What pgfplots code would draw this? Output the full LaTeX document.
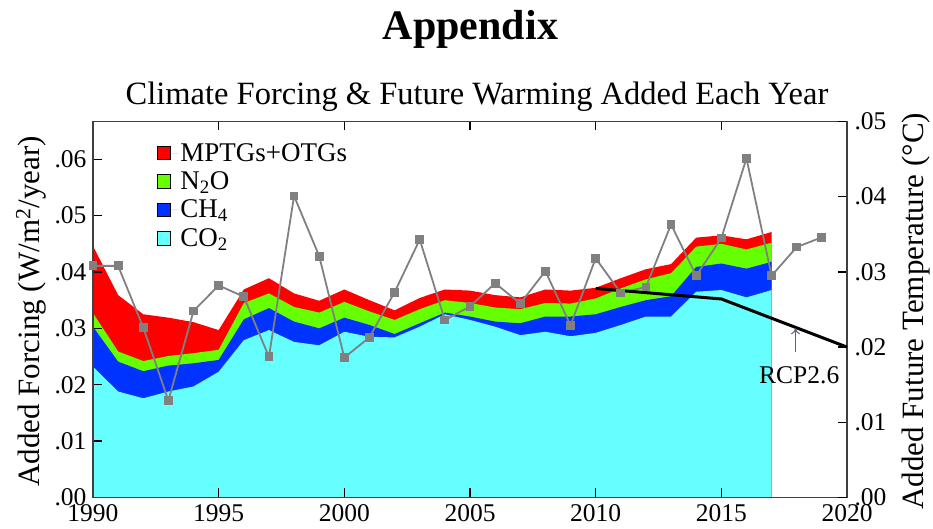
\documentclass[border=0pt]{standalone}
\usepackage{fontspec}
\setmainfont{Liberation Serif}
\usepackage{pgfplots}
\pgfplotsset{compat=1.18}
\usepackage{pgfplotstable}
\usetikzlibrary{arrows.meta}

\definecolor{cCO}{RGB}{102,255,255}
\definecolor{cCH}{RGB}{0,51,255}
\definecolor{cNO}{RGB}{102,255,0}
\definecolor{cMP}{RGB}{255,0,0}
\definecolor{cGray}{RGB}{128,128,128}
\definecolor{cArrow}{RGB}{90,100,120}

% top boundaries of the stacked layers (cumulative)
\pgfplotstableread{
year co2 ch4 n2o mptg
1990 0.0232 0.0303 0.0327 0.0446
1991 0.0188 0.0241 0.0259 0.0359
1992 0.0176 0.0224 0.0242 0.0325
1993 0.0188 0.0234 0.0251 0.0319
1994 0.0197 0.0238 0.0256 0.0311
1995 0.0223 0.0244 0.0262 0.0297
1996 0.0279 0.0316 0.0345 0.0369
1997 0.0297 0.0336 0.0362 0.0389
1998 0.0276 0.0312 0.0338 0.0362
1999 0.0270 0.0300 0.0328 0.0349
2000 0.0294 0.0319 0.0347 0.0369
2001 0.0285 0.0306 0.0330 0.0350
2002 0.0284 0.0290 0.0315 0.0332
2003 0.0303 0.0309 0.0334 0.0354
2004 0.0325 0.0328 0.0350 0.0369
2005 0.0315 0.0321 0.0345 0.0367
2006 0.0303 0.0312 0.0337 0.0359
2007 0.0288 0.0309 0.0334 0.0355
2008 0.0294 0.0321 0.0345 0.0369
2009 0.0286 0.0321 0.0344 0.0367
2010 0.0292 0.0325 0.0353 0.0372
2011 0.0306 0.0338 0.0371 0.0389
2012 0.0321 0.0350 0.0387 0.0405
2013 0.0321 0.0357 0.0398 0.0414
2014 0.0365 0.0409 0.0445 0.0461
2015 0.0368 0.0415 0.0450 0.0465
2016 0.0355 0.0406 0.0440 0.0458
2017 0.0368 0.0418 0.0452 0.0471
}\forcing

\pgfplotstableread{
year temp
1990 0.0308
1991 0.0308
1992 0.0226
1993 0.0129
1994 0.0248
1995 0.0282
1996 0.0267
1997 0.0187
1998 0.0401
1999 0.0321
2000 0.0186
2001 0.0213
2002 0.0273
2003 0.0343
2004 0.0236
2005 0.0254
2006 0.0285
2007 0.0258
2008 0.0301
2009 0.0229
2010 0.0318
2011 0.0272
2012 0.0280
2013 0.0363
2014 0.0295
2015 0.0345
2016 0.0451
2017 0.0295
2018 0.0333
2019 0.0346
}\temp

\pgfplotstableread{
year rcp
2010 0.0278
2015 0.0264
2020 0.0200
}\rcp

\begin{document}
\begin{tikzpicture}
\path[use as bounding box] (-93pt,-31.5pt) rectangle (840pt,497.5pt);
\begin{axis}[
  at={(0,0)}, anchor=south west,
  scale only axis, width=754pt, height=376pt,
  xmin=1990, xmax=2020, ymin=0, ymax=0.0667,
  scaled y ticks=false, scaled x ticks=false,
  xtick={1990,1995,2000,2005,2010,2015,2020},
  xticklabels={1990,1995,2000,2005,2010,2015,2020},
  ytick={0,0.01,0.02,0.03,0.04,0.05,0.06},
  yticklabels={.00,.01,.02,.03,.04,.05,.06},
  tick align=inside, xtick pos=both, ytick pos=left,
  major tick length=9pt,
  tick style={black, line width=1.4pt},
  axis line style={black!75, line width=1.2pt},
  ticklabel style={font=\fontsize{25.5}{28}\selectfont},
  xticklabel style={yshift=-3.5pt},
  yticklabel style={xshift=-3pt},
  axis on top,
  ylabel={Added Forcing (W/m\textsuperscript{2}/year)},
  ylabel style={at={(axis description cs:-0.082,0.495)}, anchor=center, font=\fontsize{31}{34}\selectfont},
  legend cell align=left,
  legend style={at={(axis description cs:0.082,0.953)}, anchor=north west, draw=none, fill=none,
    font=\fontsize{27}{29}\selectfont, row sep=5pt, inner sep=2pt},
  legend image code/.code={\draw[#1,draw=black,line width=0.6pt] (0pt,-6.7pt) rectangle (13.4pt,6.7pt); \path (0pt,0pt) -- (21pt,0pt);},
]
\addplot[fill=cMP, draw=none] table[x=year,y=mptg]{\forcing} \closedcycle;
\addlegendentry{MPTGs+OTGs}
\addplot[fill=cNO, draw=none] table[x=year,y=n2o]{\forcing} \closedcycle;
\addlegendentry{N\textsubscript{2}O}
\addplot[fill=cCH, draw=none] table[x=year,y=ch4]{\forcing} \closedcycle;
\addlegendentry{CH\textsubscript{4}}
\addplot[fill=cCO, draw=none] table[x=year,y=co2]{\forcing} \closedcycle;
\addlegendentry{CO\textsubscript{2}}
\end{axis}

\begin{axis}[
  at={(0,0)}, anchor=south west,
  scale only axis, width=754pt, height=376pt,
  xmin=1990, xmax=2020, ymin=0, ymax=0.05,
  scaled y ticks=false,
  axis x line=none, axis y line*=right,
  ytick={0,0.01,0.02,0.03,0.04,0.05},
  yticklabels={.00,.01,.02,.03,.04,.05},
  tick align=inside,
  major tick length=9pt,
  tick style={black, line width=1.4pt},
  axis line style={black!75, line width=1.2pt},
  ticklabel style={font=\fontsize{25.5}{28}\selectfont},
  yticklabel style={xshift=4pt},
  ylabel={Added Future Temperature (\textdegree C)},
  ylabel style={at={(axis description cs:1.0915,0.495)}, anchor=center, font=\fontsize{31}{34}\selectfont},
]
\addplot[cGray, line width=1.8pt, mark=square*, mark size=3.5pt, mark options={solid, fill=cGray, draw=cGray}] table[x=year,y=temp]{\temp};
\addplot[black, line width=3pt] table[x=year,y=rcp]{\rcp};
\draw[cArrow, line width=1pt, -{To[length=6pt,width=9pt]}] (axis cs:2017.95,0.0194) -- (axis cs:2017.95,0.0225);
\node[font=\fontsize{25.5}{28}\selectfont, anchor=center] at (axis cs:2018.1,0.0163) {RCP2.6};
\end{axis}

\node[font=\fontsize{32.5}{36}\selectfont, anchor=base] at (384pt,392.5pt) {Climate Forcing \& Future Warming Added Each Year};
\node[font=\fontsize{42}{46}\selectfont\bfseries, anchor=base] at (377.5pt,457.5pt) {Appendix};
\end{tikzpicture}
\end{document}
